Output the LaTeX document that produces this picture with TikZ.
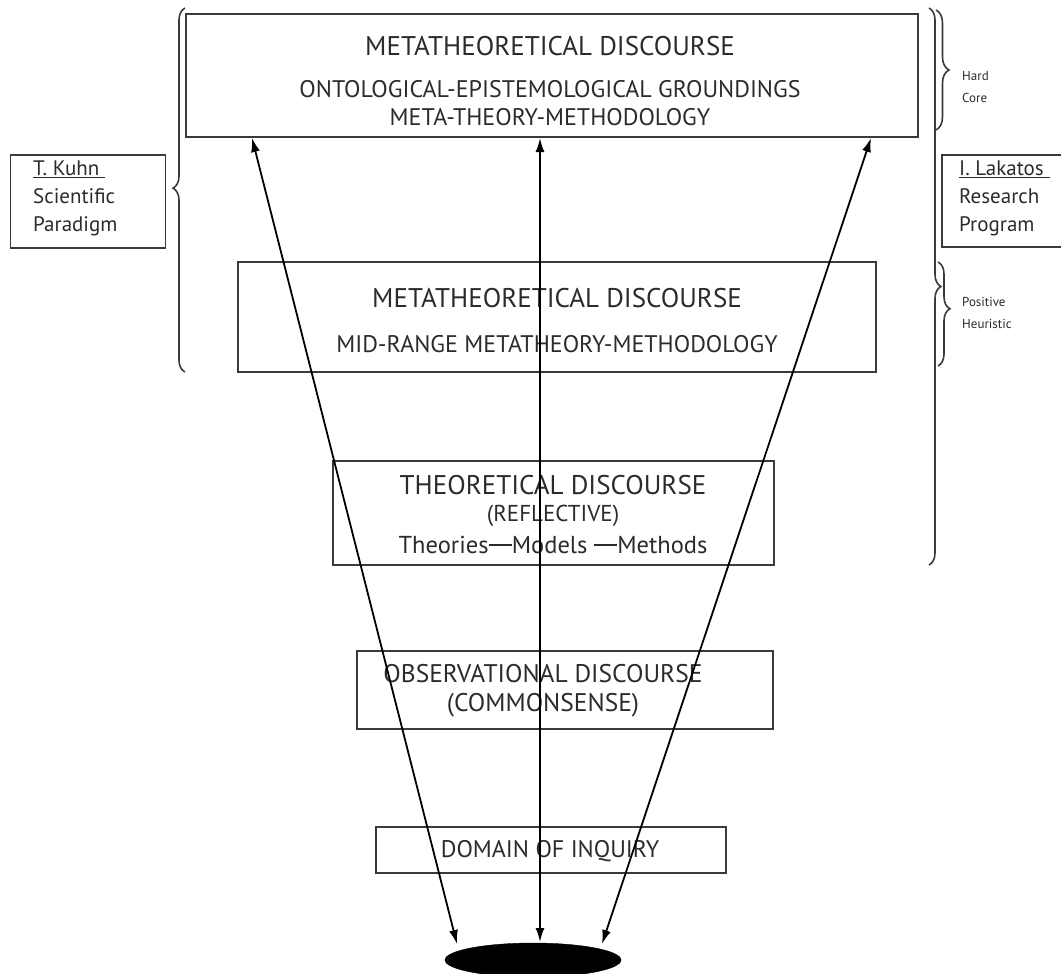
\documentclass[tikz,border=0pt]{standalone}
\usepackage{fontspec}
\setmainfont{PT Sans}
\usetikzlibrary{arrows.meta,decorations.pathreplacing,positioning,shapes.geometric}
\definecolor{ink}{HTML}{2B2B2B}
\definecolor{edge}{HTML}{3A3A3A}
\tikzset{
  box/.style={draw=edge, line width=2pt, inner sep=0pt},
  side/.style={draw=edge, line width=1.8pt, inner sep=0pt},
  lbl/.style={text=ink, inner sep=0pt},
  conn/.style={line width=1.8pt, draw=black, {Latex[length=14pt,width=9pt]}-{Latex[length=14pt,width=9pt]}},
  brc/.style={draw=edge, line width=1.6pt, decorate},
  big/.style={font=\fontsize{27}{30}\selectfont},
  mid/.style={font=\fontsize{24}{28}\selectfont},
  sidetxt/.style={text=ink, anchor=north west, align=left, inner sep=0pt, font=\fontsize{21}{28}\selectfont},
  small/.style={text=ink, anchor=west, align=left, inner sep=0pt, font=\fontsize{13}{22}\selectfont},
}
\begin{document}
\begin{tikzpicture}[x=1pt,y=-1pt]
\useasboundingbox (0,0) rectangle (1061,974);
% boxes
\node[box, minimum width=732pt, minimum height=123pt] (meta) at (552,75.5) {};
\node[lbl, big] (metaT) at (550,46) {METATHEORETICAL DISCOURSE};
\node[lbl, mid] (metaS1) at (550,89) {ONTOLOGICAL-EPISTEMOLOGICAL GROUNDINGS};
\node[lbl, mid] (metaS2) at (550,117) {META-THEORY-METHODOLOGY};

\node[box, minimum width=638pt, minimum height=110pt] (mid) at (557,317) {};
\node[lbl, big] (midT) at (557,298) {METATHEORETICAL DISCOURSE};
\node[lbl, mid] (midS) at (557,344) {MID-RANGE METATHEORY-METHODOLOGY};

\node[box, minimum width=441pt, minimum height=104pt] (theo) at (553.5,513) {};
\node[lbl, big] (theoT) at (553,485) {THEORETICAL DISCOURSE};
\node[lbl, font=\fontsize{23}{26}\selectfont] (theoS) at (553,516) {(REFLECTIVE)};
\node[lbl, font=\fontsize{24.5}{28}\selectfont] (theoM) at (553,545) {Theories\rule[0.3em]{0.95em}{2.2pt}Models \rule[0.3em]{0.95em}{2.2pt}Methods};

\node[box, minimum width=416pt, minimum height=78pt] (obs) at (565,690) {};
\node[lbl, font=\fontsize{25.5}{28}\selectfont] (obsT) at (543,674) {OBSERVATIONAL DISCOURSE};
\node[lbl, font=\fontsize{25.5}{28}\selectfont] (obsS) at (543,705) {(COMMONSENSE)};

\node[box, minimum width=350pt, minimum height=46pt] (dom) at (551,850) {};
\node[lbl, mid] (domT) at (550,851) {DOMAIN OF INQUIRY};

\node[draw=black, fill=black, ellipse, minimum width=176pt, minimum height=34pt, inner sep=0pt] (blob) at (533,960) {};

% side boxes
\node[side, minimum width=155pt, minimum height=93pt] (kuhn) at (88,201.5) {};
\node[sidetxt] (kuhnT) at (33,161) {\underline{T. Kuhn\hspace{6pt}}\\Scientific\\Paradigm};

\node[side, minimum width=125pt, minimum height=92pt] (lak) at (1004.5,201) {};
\node[sidetxt] (lakT) at (959,161) {\underline{I. Lakatos\hspace{6pt}}\\Research\\Program};

\node[small] (hard) at (962,87) {Hard\\Core};
\node[small] (pos) at (962,313) {Positive\\Heuristic};

% braces
\coordinate (lbB) at (185,372);
\coordinate (lbT) at (185,8);
\draw[brc, decoration={brace, amplitude=12pt, aspect=0.505}] (lbB) -- (lbT);
\coordinate (rbT) at (929,8);
\coordinate (rbB) at (929,565);
\draw[brc, decoration={brace, amplitude=12pt, aspect=0.5}] (rbT) -- (rbB);
\coordinate (hcT) at (936,10);
\coordinate (hcB) at (936,130);
\draw[brc, decoration={brace, amplitude=13pt, aspect=0.5}] (hcT) -- (hcB);
\coordinate (phT) at (938,262);
\coordinate (phB) at (938,366);
\draw[brc, decoration={brace, amplitude=12pt, aspect=0.45}] (phT) -- (phB);

% arrows
\coordinate (aL) at (252,138);
\coordinate (aC) at (540,138);
\coordinate (aR) at (871,138);
\coordinate (bL) at (457,944);
\coordinate (bC) at (540,942);
\coordinate (bR) at (602,944);
\draw[conn] (aL) -- (bL);
\draw[conn] (aC) -- (bC);
\draw[conn] (aR) -- (bR);
\end{tikzpicture}
\end{document}
